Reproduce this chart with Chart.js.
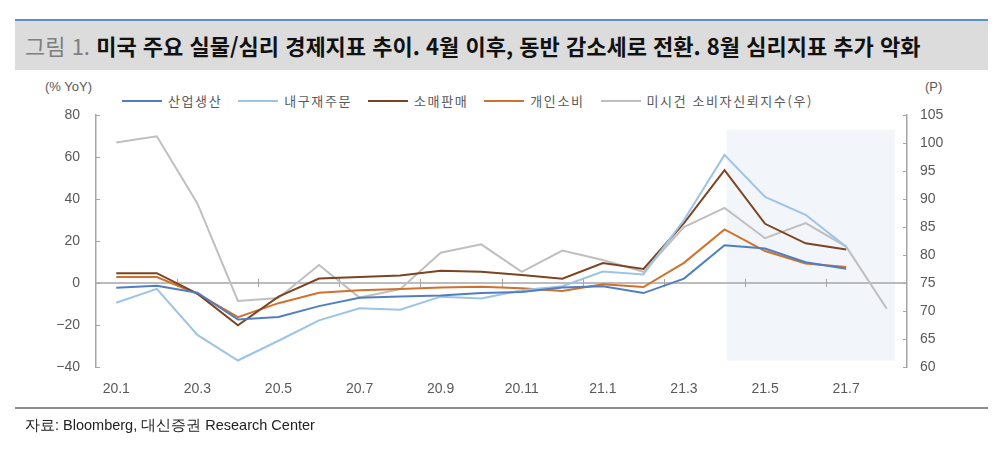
<!DOCTYPE html>
<html lang="ko">
<head>
<meta charset="utf-8">
<script src="https://cdn.jsdelivr.net/npm/chart.js@4.4.1/dist/chart.umd.min.js"></script>
<style>
    body { margin: 0; background: #fff; }
    #wrap { position: relative; width: 1000px; height: 450px; overflow: hidden; font-family: "Noto Sans CJK KR", "Liberation Sans", sans-serif; }
    #chart { position: absolute; left: 0; top: 0; }
    .topline { position: absolute; left: 15px; top: 19px; width: 973px; height: 2px; background: #5b8fd0; }
    .titlebar { position: absolute; left: 15px; top: 21px; width: 973px; height: 49px; background: #dcdcdc; }
    .title { position: absolute; left: 25px; top: 30px; font-size: 22px; font-weight: bold; color: #111; white-space: nowrap; line-height: 30px; }
    .title .num { color: #7f7f7f; font-weight: normal; }
    .unit { position: absolute; top: 79px; font-family: "Liberation Sans", sans-serif; font-size: 13px; color: #595959; }
    #legend { position: absolute; left: 122px; top: 91px; display: flex; font-size: 13px; color: #595959; letter-spacing: 1.6px; white-space: nowrap; }
    .item { display: flex; align-items: center; margin-right: 16px; }
    .swatch { width: 40px; height: 0; margin-right: 6px; }
    .srcline { position: absolute; left: 15px; top: 407px; width: 973px; height: 1.5px; background: #8c8c8c; }
    .src { position: absolute; left: 25px; top: 416px; font-family: "Liberation Sans Narrow", "Liberation Sans", sans-serif; font-size: 14.5px; color: #222; white-space: nowrap; }
</style>
</head>
<body>
<div id="wrap">
    <div class="topline"></div>
    <div class="titlebar"></div>
    <div class="title"><span class="num">그림 1.</span> 미국 주요 실물/심리 경제지표 추이. 4월 이후, 동반 감소세로 전환. 8월 심리지표 추가 악화</div>
    <div class="unit" style="left:45px">(% YoY)</div>
    <div class="unit" style="left:925px">(P)</div>
    <div id="legend"></div>
    <canvas id="chart" width="1000" height="450"></canvas>
    <div class="srcline"></div>
    <div class="src">자료: Bloomberg, 대신증권 Research Center</div>
</div>
<script>
const months = ["20.1", "20.2", "20.3", "20.4", "20.5", "20.6", "20.7", "20.8", "20.9", "20.10",
    "20.11", "20.12", "21.1", "21.2", "21.3", "21.4", "21.5", "21.6", "21.7", "21.8"];

// left axis (% YoY)
const indProd   = [-2.3, -1.3, -4.6, -17.4, -16.2, -11.0, -7.0, -6.4, -6.0, -4.8, -4.3, -2.2, -1.6, -4.8, 2.1, 18.0, 16.4, 9.9, 6.8, null];
const durable   = [-9.4, -2.8, -24.7, -36.9, -27.5, -17.8, -12.0, -12.7, -6.5, -7.4, -3.5, -1.5, 5.5, 4.1, 30.0, 61.0, 41.0, 32.5, 17.3, null];
const retail    = [4.7, 4.7, -5.1, -20.1, -6.5, 2.1, 2.8, 3.6, 5.8, 5.3, 3.8, 2.0, 9.5, 6.7, 28.5, 53.7, 28.2, 18.9, 16.0, null];
const personal  = [2.8, 2.8, -5.1, -16.3, -9.6, -4.6, -3.5, -2.8, -2.2, -1.8, -2.5, -3.8, -0.6, -1.9, 9.6, 25.5, 15.2, 9.3, 7.6, null];
// right axis (P)
const michigan  = [100.1, 101.2, 89.2, 71.8, 72.3, 78.2, 72.4, 73.9, 80.4, 81.9, 77.0, 80.8, 79.1, 77.0, 85.0, 88.4, 83.0, 85.7, 81.5, 70.4];

const seriesNames  = ["산업생산", "내구재주문", "소매판매", "개인소비", "미시건 소비자신뢰지수(우)"];
const seriesColors = ["#4f7fc0", "#9dc3e6", "#7c4422", "#d0712c", "#bfbfbf"];

const leftTicks  = [-40, -20, 0, 20, 40, 60, 80];
const rightTicks = [60, 65, 70, 75, 80, 85, 90, 95, 100, 105];

// shaded period (category index range, left-axis value range)
const shadeX = [15.05, 19.2];
const shadeY = [-37, 73];

const legend = document.getElementById("legend");
seriesNames.forEach((name, i) => {
    const item = document.createElement("div");
    item.className = "item";
    const sw = document.createElement("span");
    sw.className = "swatch";
    sw.style.borderTop = "2px solid " + seriesColors[i];
    const txt = document.createElement("span");
    txt.textContent = name;
    item.appendChild(sw);
    item.appendChild(txt);
    legend.appendChild(item);
});

const axisColor = "#a6a6a6";

const decorations = {
    id: "decorations",
    beforeDatasetsDraw(chart) {
        const { ctx, chartArea, scales } = chart;
        const x = scales.x, y = scales.y, y1 = scales.y1;
        ctx.save();

        // shaded box
        const step = x.getPixelForValue(1) - x.getPixelForValue(0);
        const x0 = x.getPixelForValue(0) + shadeX[0] * step;
        const x1 = x.getPixelForValue(0) + shadeX[1] * step;
        ctx.fillStyle = "#f2f6fa";
        ctx.fillRect(x0, y.getPixelForValue(shadeY[1]), x1 - x0, y.getPixelForValue(shadeY[0]) - y.getPixelForValue(shadeY[1]));

        // zero line
        const zy = y.getPixelForValue(0);
        ctx.strokeStyle = axisColor;
        ctx.lineWidth = 1.5;
        ctx.beginPath();
        ctx.moveTo(chartArea.left, zy);
        ctx.lineTo(chartArea.right, zy);
        ctx.stroke();

        // category tick marks on zero line
        ctx.lineWidth = 1;
        for (let i = 2; i < months.length; i += 2) {
            const tx = Math.round(x.getPixelForValue(i) - step / 2) + 0.5;
            ctx.beginPath();
            ctx.moveTo(tx, zy - 4);
            ctx.lineTo(tx, zy + 4);
            ctx.stroke();
        }

        // inner tick marks on value axes
        leftTicks.forEach(v => {
            const ty = Math.round(y.getPixelForValue(v)) + 0.5;
            ctx.beginPath();
            ctx.moveTo(chartArea.left, ty);
            ctx.lineTo(chartArea.left + 4, ty);
            ctx.stroke();
        });
        rightTicks.forEach(v => {
            const ty = Math.round(y1.getPixelForValue(v)) + 0.5;
            ctx.beginPath();
            ctx.moveTo(chartArea.right, ty);
            ctx.lineTo(chartArea.right - 4, ty);
            ctx.stroke();
        });
        ctx.restore();
    }
};

function lineSet(label, data, color, axis, width) {
    return {
        label: label,
        data: data,
        borderColor: color,
        backgroundColor: color,
        borderWidth: width,
        pointRadius: 0,
        tension: 0,
        yAxisID: axis
    };
}

new Chart(document.getElementById("chart"), {
    type: "line",
    data: {
        labels: months,
        datasets: [
            lineSet(seriesNames[0], indProd, seriesColors[0], "y", 2),
            lineSet(seriesNames[1], durable, seriesColors[1], "y", 2),
            lineSet(seriesNames[2], retail, seriesColors[2], "y", 2),
            lineSet(seriesNames[3], personal, seriesColors[3], "y", 2),
            lineSet(seriesNames[4], michigan, seriesColors[4], "y1", 2)
        ]
    },
    options: {
        responsive: false,
        animation: false,
        devicePixelRatio: 1,
        layout: { padding: { top: 115, bottom: 53, left: 0, right: 0 } },
        plugins: {
            legend: { display: false },
            tooltip: { enabled: false }
        },
        scales: {
            x: {
                offset: true,
                grid: { display: false },
                border: { display: false },
                afterFit: s => { s.height = 30; },
                ticks: {
                    autoSkip: false,
                    maxRotation: 0,
                    padding: 6,
                    color: "#595959",
                    font: { family: "Liberation Sans", size: 14 },
                    callback: function(value, index) {
                        return index % 2 === 0 ? months[index] : "";
                    }
                }
            },
            y: {
                position: "left",
                min: -40,
                max: 80,
                afterFit: s => { s.width = 96; },
                afterBuildTicks: s => { s.ticks = leftTicks.map(v => ({ value: v })); },
                grid: { display: false, drawTicks: false },
                border: { display: true, color: axisColor, width: 1.5 },
                ticks: {
                    padding: 16,
                    color: "#595959",
                    font: { family: "Liberation Sans", size: 14 },
                    callback: v => (v < 0 ? "\u2212" + Math.abs(v) : v)
                }
            },
            y1: {
                position: "right",
                min: 60,
                max: 105,
                afterFit: s => { s.width = 93; },
                afterBuildTicks: s => { s.ticks = rightTicks.map(v => ({ value: v })); },
                grid: { display: false, drawTicks: false },
                border: { display: true, color: axisColor, width: 1.5 },
                ticks: {
                    padding: 13,
                    color: "#595959",
                    font: { family: "Liberation Sans", size: 14 }
                }
            }
        }
    },
    plugins: [decorations]
});
</script>
</body>
</html>
